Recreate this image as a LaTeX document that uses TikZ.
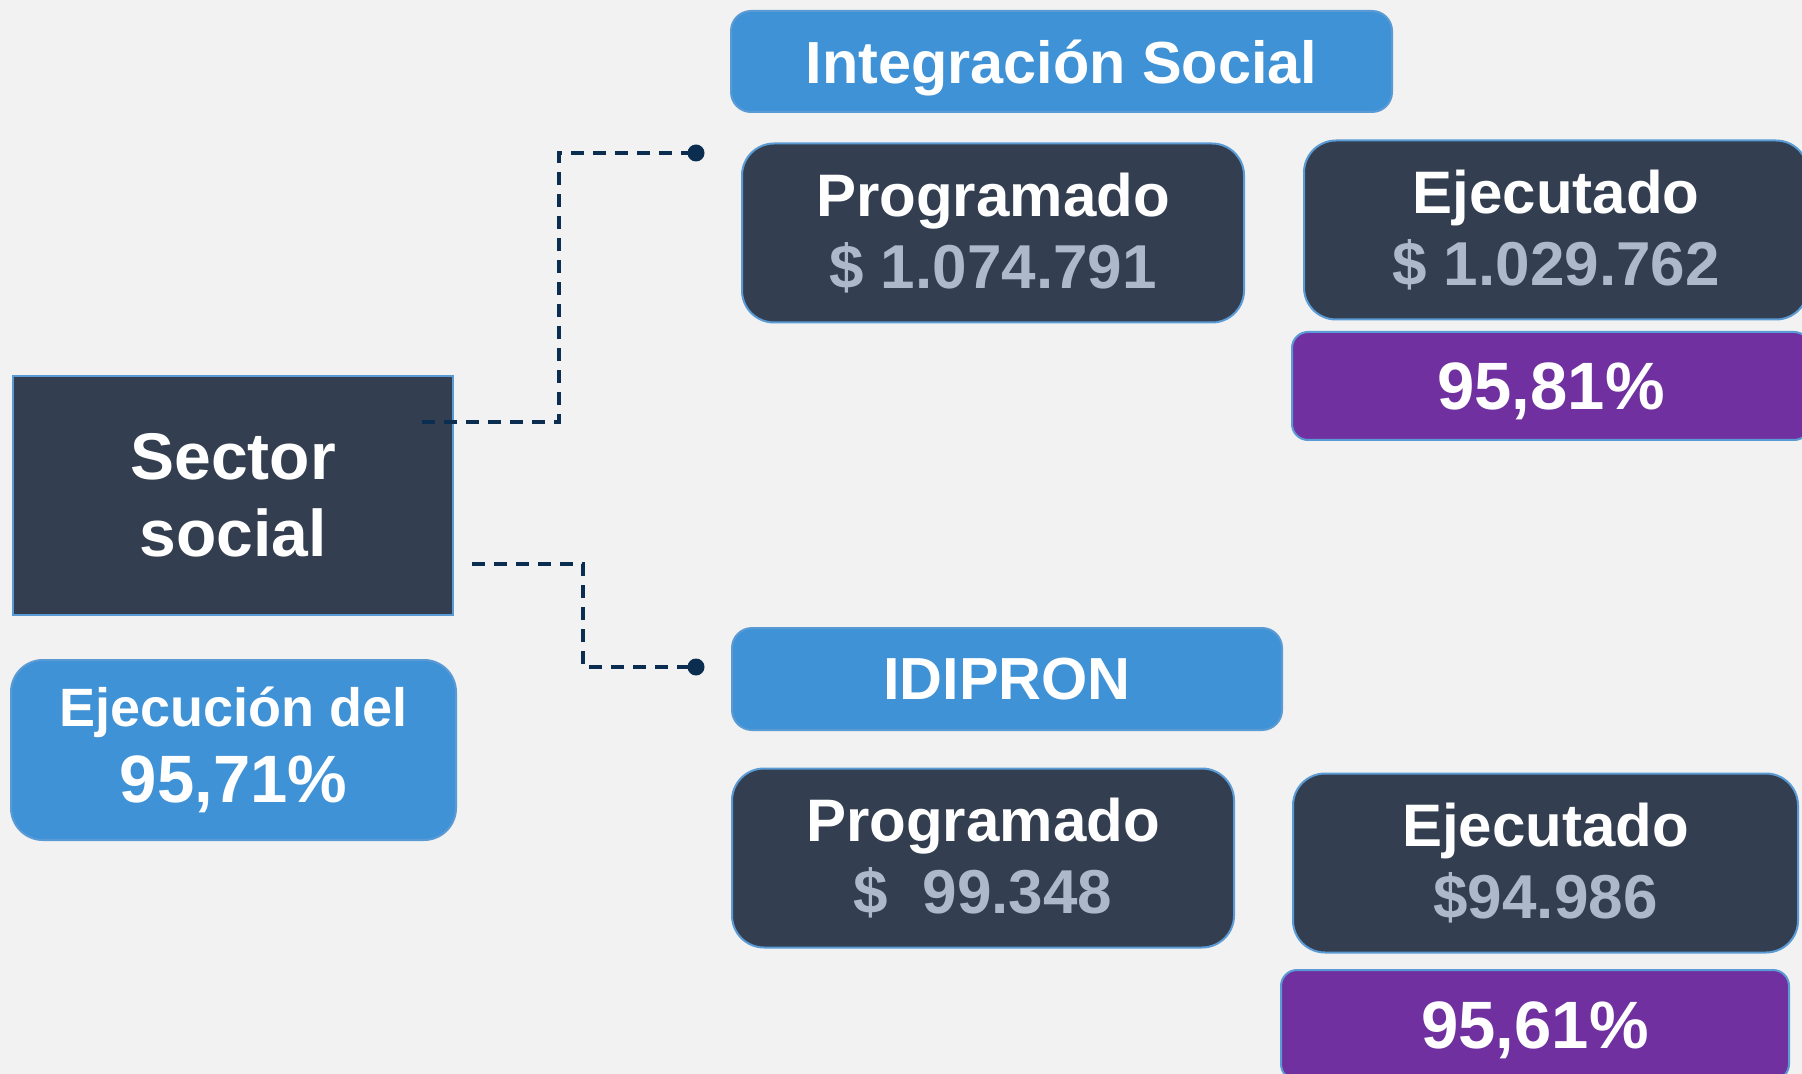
\documentclass[tikz,border=0pt]{standalone}
\usepackage{fontspec}
\setmainfont{Liberation Sans}
\usetikzlibrary{positioning}
\definecolor{pagebg}{HTML}{F2F2F2}
\definecolor{navybox}{HTML}{333F50}
\definecolor{skyblue}{HTML}{3F92D6}
\definecolor{edgeblue}{HTML}{5B9BD5}
\definecolor{plum}{HTML}{7030A0}
\definecolor{valgray}{HTML}{ADB9CA}
\definecolor{linknavy}{HTML}{0B2D50}
\newcommand{\amount}[1]{{\color{valgray}\fontsize{31}{36}\selectfont #1}}

\begin{document}
\begin{tikzpicture}[x=0.5pt, y=-0.5pt,
  darkbox/.style={draw=edgeblue, line width=1pt, fill=navybox, rounded corners=16pt,
    text=white, font=\bfseries\fontsize{30}{36}\selectfont, align=center, inner sep=0pt,
    minimum width=251pt, minimum height=89.5pt},
  headbox/.style={draw=edgeblue, line width=1pt, fill=skyblue, rounded corners=10pt,
    text=white, font=\bfseries\fontsize{29.7}{34}\selectfont, inner sep=0pt, text depth=0pt,
    minimum height=50.5pt},
  pctbox/.style={draw=edgeblue, line width=1pt, fill=plum, rounded corners=8pt,
    text=white, font=\bfseries\fontsize{33.5}{38}\selectfont, inner sep=0pt, text depth=0pt,
    minimum height=54pt},
  link/.style={draw=linknavy, line width=1.7pt, dash pattern=on 6.5pt off 4.5pt},
  dot/.style={circle, fill=linknavy, inner sep=0pt, minimum size=8.5pt}
]
  \useasboundingbox (0,0) rectangle (1802,1074);
  \fill[pagebg] (0,0) rectangle (1802,1074);
  \clip (0,0) rectangle (1802,1074);

  % left side
  \node[draw=edgeblue, line width=1pt, fill=navybox, text=white, align=center, inner sep=0pt,
    font=\bfseries\fontsize{33}{38.5}\selectfont, minimum width=220pt, minimum height=119.5pt]
    (sector) at (233,495.5) {Sector\\social};
  \node[draw=edgeblue, line width=1pt, fill=skyblue, rounded corners=16pt, text=white, align=center,
    inner sep=0pt, minimum width=222.5pt, minimum height=90pt, font=\bfseries\fontsize{27}{38}\selectfont]
    (ejecucion) at (233.5,750) {Ejecución del\\{\fontsize{33.5}{38}\selectfont 95,71\%}};

  % Integracion Social
  \node[headbox, minimum width=330.5pt] (integracion) at (1061.5,61.5) {Integración Social};
  \node[darkbox] (prog1) at (993,233) {Programado\\\amount{\$ 1.074.791}};
  \node[darkbox, minimum width=252pt] (ejec1) at (1556,230) {Ejecutado\\\amount{\$ 1.029.762}};
  \node[pctbox, minimum width=259pt] (pct1) at (1551,386) {95,81\%};

  % IDIPRON
  \node[headbox, minimum width=275pt, minimum height=51pt] (idipron) at (1007,679) {IDIPRON};
  \node[darkbox] (prog2) at (983,858) {Programado\\\amount{\$\ \ 99.348}};
  \node[darkbox, minimum width=252.5pt] (ejec2) at (1545.5,863) {Ejecutado\\\amount{\$94.986}};
  \node[pctbox, minimum width=254pt, minimum height=55pt] (pct2) at (1535,1025) {95,61\%};

  % connectors
  \coordinate (srcA) at (422,422);
  \coordinate (srcB) at (472,564);
  \node[dot] (dotA) at (696,153) {};
  \node[dot] (dotB) at (696,667) {};
  \draw[link] (srcA) -- ++(137,0) |- (dotA.center);
  \draw[link] (srcB) -- ++(111,0) |- (dotB.center);
\end{tikzpicture}
\end{document}
